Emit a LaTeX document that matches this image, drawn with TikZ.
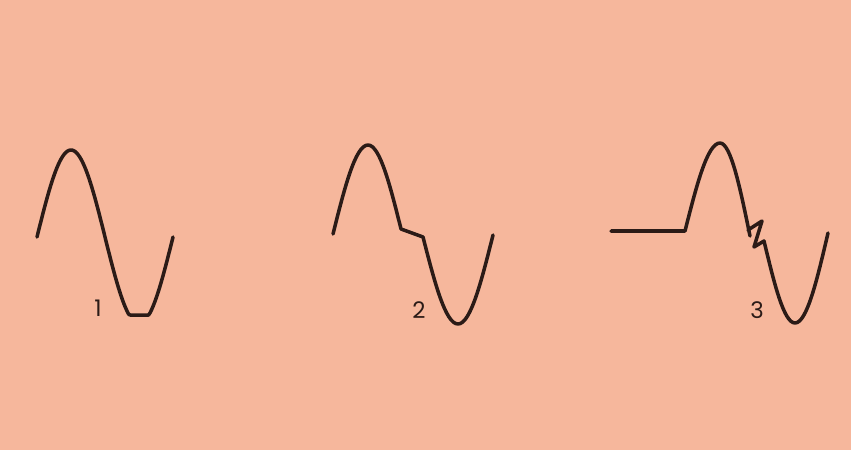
\documentclass[tikz,border=0pt]{standalone}
\usepackage{fontspec}
\setmainfont{Poppins}
\definecolor{bg}{HTML}{F6B79C}
\definecolor{ink}{HTML}{2B1B17}

\begin{document}
\begin{tikzpicture}[x=0.02cm, y=-0.02cm,
  wave/.style={draw=ink, line width=2pt, line join=round, line cap=round},
  num/.style={text=ink, font=\fontsize{13}{15}\selectfont}
]
\fill[bg] (0,0) rectangle (851,450);
% wave 1: trough cut flat
\draw[wave] plot[domain=0:360, samples=90] ({37+\x/360*136}, {min(315, 237-87*sin(\x))});
\node[num] (lbl1) at (98,308) {1};
% wave 2: step on the downswing
\draw[wave] (333,234) sin (368,145) cos (401,229) -- (423,237) sin (458,324) cos (493,235);
\node[num] (lbl2) at (419,310) {2};
% wave 3: late start, spike on the downswing
\draw[wave] (611,231) -- (685,231) sin (720,143) cos (750,236);
\draw[wave] (748,230) -- (762,221) -- (754,247) -- (764,241) sin (795,323) cos (828,233);
\node[num] (lbl3) at (757,310) {3};
\end{tikzpicture}
\end{document}
